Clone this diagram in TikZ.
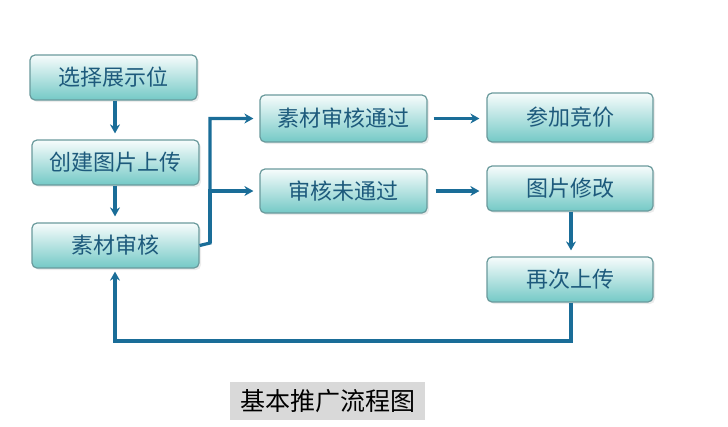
\documentclass[tikz,border=0pt]{standalone}
\usepackage{fontspec}
\setmainfont{Noto Sans CJK SC}
\usetikzlibrary{arrows.meta,shadows}
\definecolor{linec}{HTML}{1A6D98}
\definecolor{boxtop}{HTML}{F7FCFC}
\definecolor{boxbot}{HTML}{74C9C6}
\definecolor{boxline}{HTML}{6A9A9C}
\definecolor{txtc}{HTML}{1D5A7C}
\definecolor{titlebg}{HTML}{D9D9D9}
\tikzset{
  stepbox/.style={draw=boxline, line width=1.2pt, rounded corners=5pt,
    top color=boxtop, bottom color=boxbot, text=txtc,
    font=\fontsize{22}{26}\selectfont, minimum width=167pt, minimum height=45pt,
    inner sep=0pt, drop shadow={shadow xshift=2pt, shadow yshift=-2pt, fill=black!12, opacity=0.6}},
  conn/.style={draw=linec, line width=3.2pt, -{Stealth[length=9pt,width=10pt]}},
}
\begin{document}
\begin{tikzpicture}[x=1pt,y=-1pt]
\useasboundingbox (0,0) rectangle (728,426);
\node[stepbox] (n1) at (113.5,77.5) {选择展示位};
\node[stepbox] (n2) at (115.5,162.5) {创建图片上传};
\node[stepbox] (n3) at (115.5,245.5) {素材审核};
\node[stepbox, minimum height=47pt] (n4) at (343.5,118.5) {素材审核通过};
\node[stepbox, minimum width=166pt, minimum height=49pt] (n5) at (570,117.5) {参加竞价};
\node[stepbox, minimum height=44pt] (n6) at (343.5,191) {审核未通过};
\node[stepbox, minimum width=166pt] (n7) at (570,188.5) {图片修改};
\node[stepbox, minimum width=166pt] (n8) at (570,279.5) {再次上传};
\node[fill=titlebg, minimum width=195pt, minimum height=38pt, inner sep=0pt,
  font=\fontsize{25}{28}\selectfont, text=black] (title) at (327.5,401) {基本推广流程图};
\coordinate (jx) at (210,243);
\coordinate (fbr) at (571,341);
\coordinate (fbl) at (115,341);
\draw[conn, shorten >=6pt] (n1.south -| 115,0) -- (n2.north -| 115,0);
\draw[conn, shorten >=6pt] (n2.south -| 115,0) -- (n3.north -| 115,0);
\draw[conn, shorten >=6pt] (n3.east) -- (jx) |- (n4.west);
\draw[conn, shorten >=6pt] (jx) |- (n6.west);
\draw[conn, shorten <=6pt, shorten >=7pt] (n4.east) -- (n5.west |- n4.east);
\draw[conn, shorten <=8pt, shorten >=7pt] (n6.east) -- (n7.west |- n6.east);
\draw[conn, shorten >=6pt] (n7.south -| 571,0) -- (n8.north -| 571,0);
\draw[conn, shorten >=3pt] (n8.south -| fbr) -- (fbr) -- (fbl) -- (n3.south -| fbl);
\end{tikzpicture}
\end{document}
